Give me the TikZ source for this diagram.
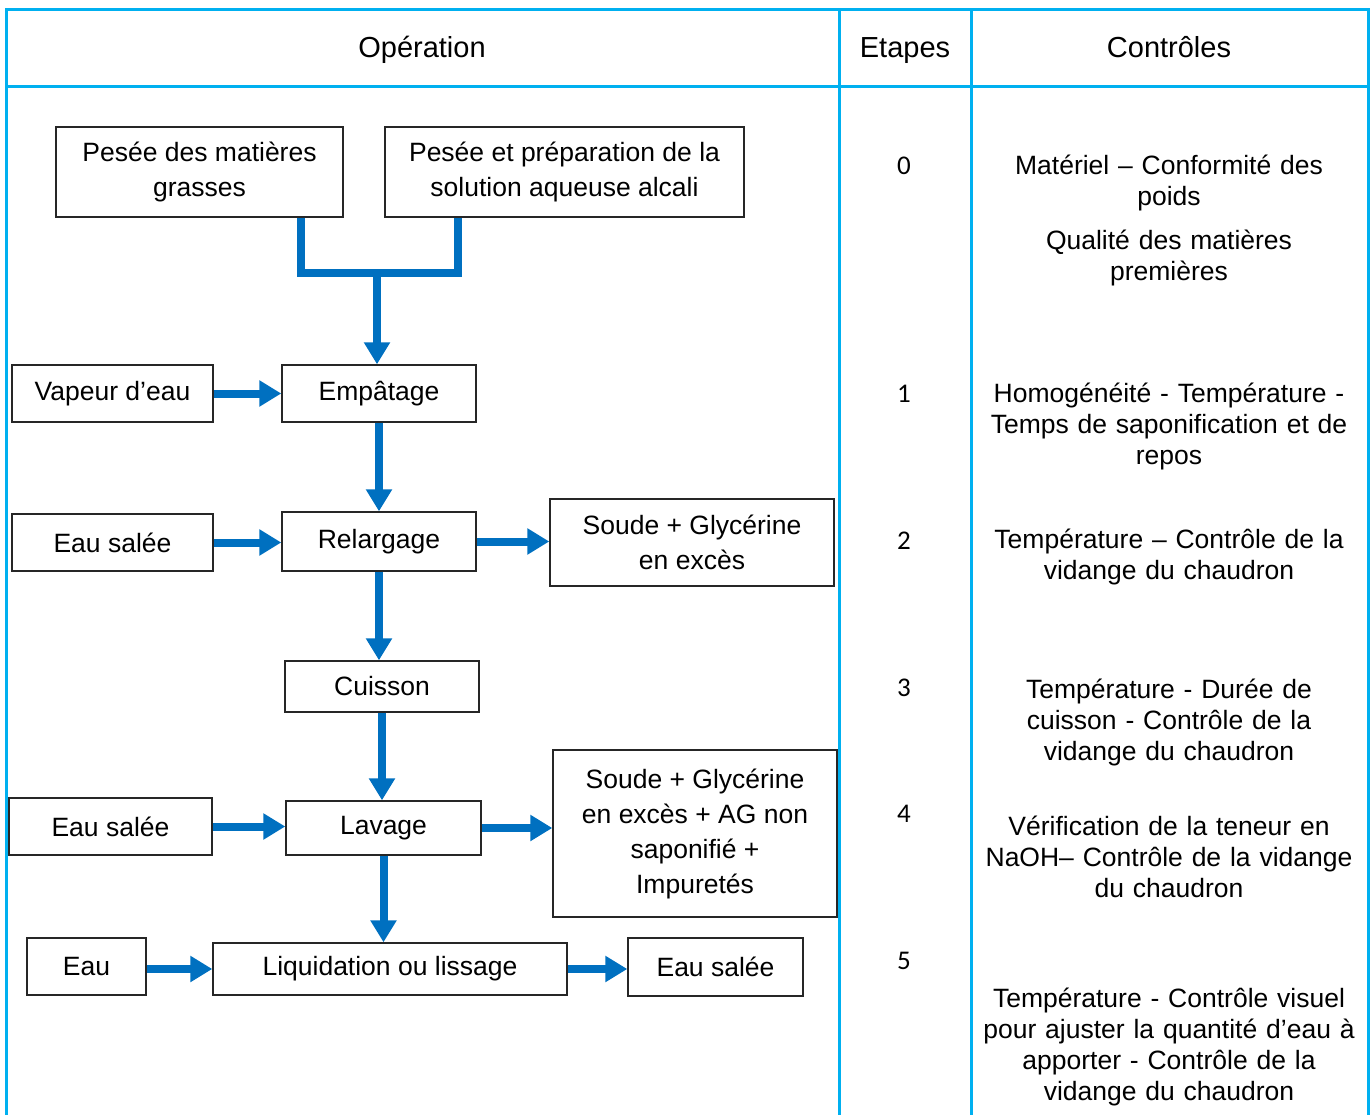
\documentclass[tikz,border=0pt]{standalone}
\usepackage{fontspec}
\setmainfont{Liberation Sans}
\newfontfamily\calib{Carlito}
\usetikzlibrary{arrows.meta}
\definecolor{tabcol}{HTML}{00B0F0}
\definecolor{flowcol}{HTML}{0070C0}

\begin{document}
\begin{tikzpicture}[x=1pt,y=-1pt,font=\fontsize{26.5}{35}\selectfont]

\tikzset{
	box/.style args={#1/#2}{draw=black!85,line width=1.4pt,inner sep=0pt,
		minimum width=#1pt,minimum height=#2pt,align=center},
	flow/.style={draw=flowcol,line width=8pt},
	flowarrow/.style={flow,-{Triangle[length=22pt,width=25pt]}},
	tab/.style={draw=tabcol,line width=3pt},
	head/.style={font=\fontsize{29}{35}\selectfont,anchor=base,inner sep=0pt},
	etape/.style={font=\calib\fontsize{27}{31}\selectfont,anchor=base,inner sep=0pt},
	ctrl/.style={font=\fontsize{26.5}{31}\selectfont,text width=390pt,
		align=center,inner sep=0pt,anchor=base},
}
		\useasboundingbox (0,0) rectangle (1370,1115);

		%TABLE
		\draw[tab] (6,1115) -- (6,10) -- (1368,10) -- (1368,1115);
		\draw[tab] (6,87) -- (1368,87);
		\draw[tab] (839,10) -- (839,1115);
		\draw[tab] (971,10) -- (971,1115);
		\node[head] (hop) at (422,58) {Opération};
		\node[head] (het) at (905,58) {Etapes};
		\node[head] (hct) at (1169,58) {Contrôles};

		%OPERATION
		\node[box=287/90] (pgras) at (199.5,172) {Pesée des matières\\grasses};
		\node[box=359/90] (psol) at (564.5,172) {Pesée et préparation de la\\solution aqueuse alcali};
		\node[box=194/57] (empat) at (379,393.5) {Empâtage};
		\node[box=201/57] (vapeur) at (112.5,393.5) {Vapeur d’eau};
		\node[box=194/59] (relarg) at (379,541.5) {Relargage};
		\node[box=201/57] (eausal1) at (112.5,542.5) {Eau salée};
		\node[box=284/87] (soude1) at (692,542.5) {Soude + Glycérine\\en excès};
		\node[box=194/51] (cuisson) at (382,686.5) {Cuisson};
		\node[box=195/54] (lavage) at (383.5,828) {Lavage};
		\node[box=203/57] (eausal2) at (110.5,826.5) {Eau salée};
		\node[box=284/167] (soude2) at (695,833.5) {Soude + Glycérine\\en excès + AG non\\saponifié +\\Impuretés};
		\node[box=354/52] (liquid) at (390,969) {Liquidation ou lissage};
		\node[box=119/57] (eau) at (86.5,966.5) {Eau};
		\node[box=175/58] (eausal3) at (715.5,967) {Eau salée};

		%junction of the two weighings
		\coordinate (jl) at (301,273);
		\coordinate (jr) at (458,273);
		\coordinate (jm) at (377,273);
		\draw[flow] (pgras.south -| jl) -- (jl) -- (jr) -- (psol.south -| jr);
		\draw[flowarrow] (jm) -- (empat.north -| jm);

		\draw[flowarrow] (vapeur) -- (empat);
		\draw[flowarrow] (empat) -- (relarg);
		\draw[flowarrow] (eausal1.east) -- (eausal1.east -| relarg.west);
		\draw[flowarrow] (relarg.east) -- (relarg.east -| soude1.west);
		\draw[flowarrow] (relarg) -- (relarg.south |- cuisson.north);
		\draw[flowarrow] (cuisson) -- (cuisson.south |- lavage.north);
		\draw[flowarrow] (eausal2.east) -- (eausal2.east -| lavage.west);
		\draw[flowarrow] (lavage.east) -- (lavage.east -| soude2.west);
		\draw[flowarrow] (lavage.south) -- (lavage.south |- liquid.north);
		\draw[flowarrow] (eau.east |- liquid.west) -- (liquid.west);
		\draw[flowarrow] (liquid.east) -- (liquid.east -| eausal3.west);

		%ETAPES
		\node[etape] (e0) at (904,175) {0};
		\node[etape] (e1) at (904,402) {1};
		\node[etape] (e2) at (904,549) {2};
		\node[etape] (e3) at (904,696) {3};
		\node[etape] (e4) at (904,822) {4};
		\node[etape] (e5) at (904,969) {5};

		%CONTROLES
		\node[ctrl] (c0a) at (1169,175) {Matériel – Conformité des\\poids};
		\node[ctrl] (c0b) at (1169,250) {Qualité des matières\\premières};
		\node[ctrl] (c1) at (1169,402) {Homogénéité - Température -\\Temps de saponification et de\\repos};
		\node[ctrl] (c2) at (1169,548) {Température – Contrôle de la\\vidange du chaudron};
		\node[ctrl] (c3) at (1169,698) {Température - Durée de\\cuisson - Contrôle de la\\vidange du chaudron};
		\node[ctrl] (c4) at (1169,835) {Vérification de la teneur en\\NaOH– Contrôle de la vidange\\du chaudron};
		\node[ctrl] (c5) at (1169,1007) {Température - Contrôle visuel\\pour ajuster la quantité d’eau à\\apporter - Contrôle de la\\vidange du chaudron};
\end{tikzpicture}
\end{document}
